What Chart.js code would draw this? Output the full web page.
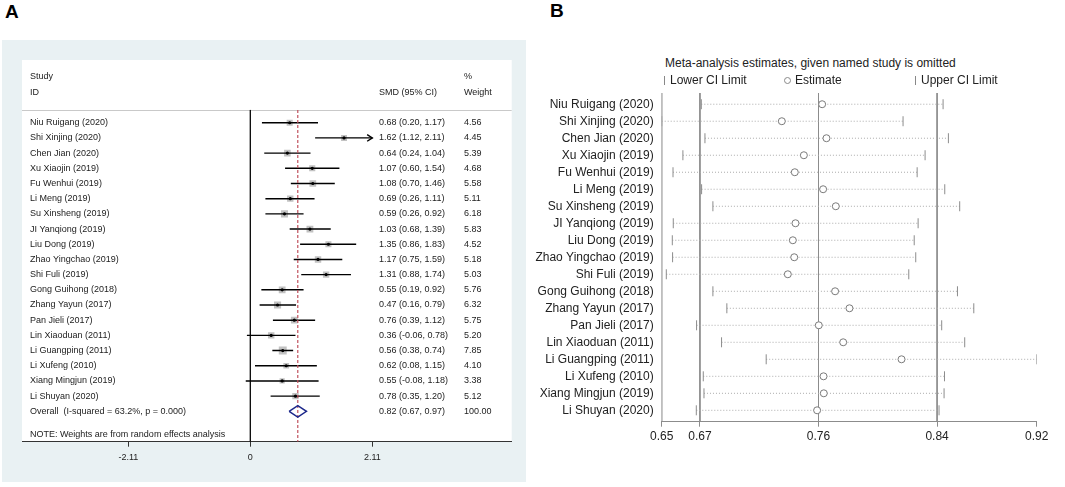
<!DOCTYPE html>
<html>
<head>
<meta charset="utf-8">
<script src="https://cdn.jsdelivr.net/npm/chart.js@4.4.1/dist/chart.umd.min.js"></script>
<style>
body { margin: 0; width: 1065px; height: 487px; background: #fff; position: relative; overflow: hidden; font-family: "Liberation Sans", Arial, sans-serif; }
.letter { position: absolute; font-weight: bold; font-size: 19px; line-height: 19px; color: #000; }
.txt { position: absolute; font-size: 12px; line-height: 14px; color: #222; white-space: nowrap; }
.tick { position: absolute; width: 1px; height: 9px; background: #888; }
.ring { position: absolute; width: 5px; height: 5px; border: 1px solid #888; border-radius: 50%; }
#panelA { position: absolute; left: 2px; top: 40px; width: 524px; height: 442px; background: #e9f1f3; }
#chartA { position: absolute; left: 0; top: 0; }
#chartB { position: absolute; left: 525px; top: 87px; }
</style>
</head>
<body>
<div class="letter" style="left:5px;top:2px">A</div>
<div class="letter" style="left:550px;top:1px">B</div>
<div id="panelA"><canvas id="chartA" width="524" height="442"></canvas></div>
<canvas id="chartB" width="540" height="400"></canvas>
<div class="txt" style="left:665px;top:56px">Meta-analysis estimates, given named study is omitted</div>
<div class="tick" style="left:664px;top:76px"></div>
<div class="txt" style="left:670px;top:73px">Lower CI Limit</div>
<div class="ring" style="left:784px;top:77px"></div>
<div class="txt" style="left:795px;top:73px">Estimate</div>
<div class="tick" style="left:915px;top:76px"></div>
<div class="txt" style="left:921px;top:73px">Upper CI Limit</div>
<script>
// study names, same order in both panels
let studies = ['Niu Ruigang (2020)', 'Shi Xinjing (2020)', 'Chen Jian (2020)', 'Xu Xiaojin (2019)', 'Fu Wenhui (2019)',
    'Li Meng (2019)', 'Su Xinsheng (2019)', 'JI Yanqiong (2019)', 'Liu Dong (2019)', 'Zhao Yingchao (2019)',
    'Shi Fuli (2019)', 'Gong Guihong (2018)', 'Zhang Yayun (2017)', 'Pan Jieli (2017)', 'Lin Xiaoduan (2011)',
    'Li Guangping (2011)', 'Li Xufeng (2010)', 'Xiang Mingjun (2019)', 'Li Shuyan (2020)'];

// panel A - forest plot
let smd = [0.68, 1.62, 0.64, 1.07, 1.08, 0.69, 0.59, 1.03, 1.35, 1.17, 1.31, 0.55, 0.47, 0.76, 0.36, 0.56, 0.62, 0.55, 0.78];
let smdLower = [0.20, 1.12, 0.24, 0.60, 0.70, 0.26, 0.26, 0.68, 0.86, 0.75, 0.88, 0.19, 0.16, 0.39, -0.06, 0.38, 0.08, -0.08, 0.35];
let smdUpper = [1.17, 2.11, 1.04, 1.54, 1.46, 1.11, 0.92, 1.39, 1.83, 1.59, 1.74, 0.92, 0.79, 1.12, 0.78, 0.74, 1.15, 1.18, 1.20];
let weights = [4.56, 4.45, 5.39, 4.68, 5.58, 5.11, 6.18, 5.83, 4.52, 5.18, 5.03, 5.76, 6.32, 5.75, 5.20, 7.85, 4.10, 3.38, 5.12];
let overall = [0.82, 0.67, 0.97]; // estimate, lower, upper
let overallWeight = '100.00';
let overallLabel = 'Overall  (I-squared = 63.2%, p = 0.000)';
let noteText = 'NOTE: Weights are from random effects analysis';
let axisTicksA = [-2.11, 0, 2.11];

// panel B - estimate with each study left out
let omitLower = [0.6752, 0.6468, 0.6778, 0.6620, 0.6549, 0.6754, 0.6835, 0.6551, 0.6544, 0.6546,
    0.6501, 0.6835, 0.6935, 0.6718, 0.6897, 0.7217, 0.6766, 0.6771, 0.6716];
let omitEst = [0.7618, 0.7329, 0.7649, 0.7487, 0.7422, 0.7625, 0.7716, 0.7427, 0.7408, 0.7418,
    0.7372, 0.7711, 0.7814, 0.7594, 0.7769, 0.8187, 0.7628, 0.7630, 0.7582];
let omitUpper = [0.8485, 0.8198, 0.8523, 0.8356, 0.8299, 0.8497, 0.8604, 0.8306, 0.8278, 0.8289,
    0.8239, 0.8588, 0.8705, 0.8475, 0.8640, 0.9156, 0.8495, 0.8492, 0.8456];
let axisTicksB = [0.6468, 0.6742, 0.7592, 0.8442, 0.9156];

let family = '"Liberation Sans", Arial, sans-serif';
Chart.defaults.font.family = family;

let n = studies.length;
let clipA = axisTicksA[axisTicksA.length - 1];
let headerRow = -0.84;
let axisRow = 21;

// CI segments, broken by empty points
let ciLines = [];
let arrows = [];
for (let i = 0; i < n; i++) {
    ciLines.push({x: smdLower[i], y: i}, {x: Math.min(smdUpper[i], clipA), y: i}, {x: null, y: null});
    if (smdUpper[i] >= clipA) {
        arrows.push({x: clipA - 0.09, y: i - 0.22}, {x: clipA, y: i}, {x: clipA - 0.09, y: i + 0.22}, {x: null, y: null});
    }
}
let centers = smd.map((v, i) => ({x: v, y: i}));
let boxRadius = weights.map(w => 5.6 * Math.sqrt(w / 7.85));
let diamond = [
    {x: overall[1], y: n}, {x: overall[0], y: n - 0.38}, {x: overall[2], y: n},
    {x: overall[0], y: n + 0.38}, {x: overall[1], y: n}
];
let zeroLine = [{x: 0, y: headerRow}, {x: 0, y: axisRow}];
let refLine = [{x: overall[0], y: headerRow}, {x: overall[0], y: axisRow}];

let forestText = {
    id: 'forestText',
    beforeDraw(chart) {
        let {ctx, chartArea: a} = chart;
        ctx.save();
        ctx.fillStyle = '#fff';
        ctx.fillRect(a.left, a.top, a.right - a.left, a.bottom - a.top);
        ctx.restore();
    },
    beforeDatasetsDraw(chart) {
        let {ctx, chartArea: a, scales: {y}} = chart;
        let yy = Math.round(y.getPixelForValue(headerRow)) + 0.5;
        ctx.save();
        ctx.strokeStyle = '#c9c9c9';
        ctx.lineWidth = 1;
        ctx.beginPath();
        ctx.moveTo(a.left, yy);
        ctx.lineTo(a.right, yy);
        ctx.stroke();
        ctx.restore();
    },
    afterDraw(chart) {
        let {ctx, chartArea: a, scales: {y}} = chart;
        let colStudy = a.left + 8, colCI = a.left + 357, colW = a.left + 442;
        ctx.save();
        ctx.font = '9px ' + family;
        ctx.fillStyle = '#222';
        ctx.textBaseline = 'middle';
        ctx.fillText('Study', colStudy, y.getPixelForValue(-3.07));
        ctx.fillText('%', colW, y.getPixelForValue(-3.07));
        ctx.fillText('ID', colStudy, y.getPixelForValue(-2.02));
        ctx.fillText('SMD (95% CI)', colCI, y.getPixelForValue(-2.02));
        ctx.fillText('Weight', colW, y.getPixelForValue(-2.02));
        for (let i = 0; i < n; i++) {
            let py = y.getPixelForValue(i);
            ctx.fillText(studies[i], colStudy, py);
            ctx.fillText(`${smd[i].toFixed(2)} (${smdLower[i].toFixed(2)}, ${smdUpper[i].toFixed(2)})`, colCI, py);
            ctx.fillText(weights[i].toFixed(2), colW, py);
        }
        let py = y.getPixelForValue(n);
        ctx.fillText(overallLabel, colStudy, py);
        ctx.fillText(`${overall[0].toFixed(2)} (${overall[1].toFixed(2)}, ${overall[2].toFixed(2)})`, colCI, py);
        ctx.fillText(overallWeight, colW, py);
        ctx.fillText(noteText, colStudy, y.getPixelForValue(20.5));
        ctx.restore();
    }
};

new Chart(document.getElementById('chartA'), {
    type: 'scatter',
    data: {
        datasets: [
            {data: zeroLine, showLine: true, borderColor: '#111', borderWidth: 1, pointRadius: 0, order: 9},
            {data: centers, pointStyle: 'rect', pointRadius: boxRadius, backgroundColor: '#c2c2c2', borderWidth: 0, order: 8},
            {data: ciLines, showLine: true, borderColor: '#000', borderWidth: 1.4, pointRadius: 0, order: 7},
            {data: arrows, showLine: true, borderColor: '#000', borderWidth: 1.4, pointRadius: 0, order: 7},
            {data: refLine, showLine: true, borderColor: '#c0505c', borderDash: [3, 2], borderWidth: 1.2, pointRadius: 0, order: 6},
            {data: centers, pointRadius: 1.6, backgroundColor: '#000', borderWidth: 0, order: 5},
            {data: diamond, showLine: true, borderColor: '#1f2a8c', borderWidth: 1.5, pointRadius: 0, order: 4}
        ]
    },
    options: {
        responsive: false,
        animation: false,
        events: [],
        layout: {padding: {left: 20, right: 14.3, top: 20, bottom: 0}},
        plugins: {legend: {display: false}, tooltip: {enabled: false}},
        scales: {
            x: {
                type: 'linear', min: -3.95, max: 4.52,
                afterBuildTicks: s => { s.ticks = axisTicksA.map(v => ({value: v})); },
                afterFit: s => { s.height = 40.3; },
                ticks: {autoSkip: false, maxRotation: 0, padding: 5, font: {size: 9}, color: '#222', callback: v => String(v)},
                grid: {drawOnChartArea: false, drawTicks: true, tickLength: 5, tickColor: '#333'},
                border: {color: '#333', width: 1}
            },
            y: {type: 'linear', reverse: true, min: -4.13, max: 21, display: false}
        }
    },
    plugins: [forestText]
});

// panel B
let rowMinB = -0.66, rowMaxB = 18.67;
let dotted = [];
for (let i = 0; i < n; i++) {
    dotted.push({x: omitLower[i], y: i}, {x: omitUpper[i], y: i}, {x: null, y: null});
}
// reference lines at the overall lower limit, estimate and upper limit, plus the left axis
let refLinesB = [];
for (let k = 0; k < axisTicksB.length - 1; k++) {
    refLinesB.push({x: axisTicksB[k], y: rowMinB}, {x: axisTicksB[k], y: rowMaxB}, {x: null, y: null});
}

let greyB = '#8c8c8c';
new Chart(document.getElementById('chartB'), {
    type: 'scatter',
    data: {
        datasets: [
            {data: refLinesB, showLine: true, borderColor: greyB, borderWidth: 1, pointRadius: 0, order: 6},
            {data: dotted, showLine: true, borderColor: '#ababab', borderDash: [1, 2], borderWidth: 1, pointRadius: 0, order: 5},
            {data: omitLower.map((v, i) => ({x: v, y: i})), pointStyle: 'line', rotation: 90, pointRadius: 5, borderColor: greyB, borderWidth: 1, order: 4},
            {data: omitUpper.map((v, i) => ({x: v, y: i})), pointStyle: 'line', rotation: 90, pointRadius: 5, borderColor: greyB, borderWidth: 1, order: 4},
            {data: omitEst.map((v, i) => ({x: v, y: i})), pointStyle: 'circle', pointRadius: 3.5, borderColor: '#7a7a7a', backgroundColor: '#fff', borderWidth: 1, order: 3}
        ]
    },
    options: {
        responsive: false,
        animation: false,
        events: [],
        // the tick marks reserve 6px of overflow above the plot, so the canvas starts 6px higher
        layout: {padding: {left: 0, right: 28.3, top: 0, bottom: 0}},
        plugins: {legend: {display: false}, tooltip: {enabled: false}},
        scales: {
            x: {
                type: 'linear', min: axisTicksB[0], max: axisTicksB[axisTicksB.length - 1],
                afterBuildTicks: s => { s.ticks = axisTicksB.map(v => ({value: v})); },
                afterFit: s => { s.height = 65.3; },
                ticks: {autoSkip: false, maxRotation: 0, padding: 3, font: {size: 12}, color: '#222', callback: v => v.toFixed(2)},
                grid: {drawOnChartArea: false, tickColor: greyB, tickLength: 5, drawTicks: true},
                border: {color: greyB, width: 1}
            },
            y: {
                type: 'linear', reverse: true, min: rowMinB, max: rowMaxB,
                afterBuildTicks: s => { s.ticks = studies.map((_, i) => ({value: i})); },
                // fixed width, and no extra room above/below for the label overhang
                afterFit: s => { s.width = 136.7; s.paddingTop = 0; s.paddingBottom = 0; },
                ticks: {autoSkip: false, padding: 8, font: {size: 12}, color: '#222', callback: v => studies[v]},
                grid: {display: false, drawTicks: false},
                border: {display: false}
            }
        }
    }
});
</script>
</body>
</html>
